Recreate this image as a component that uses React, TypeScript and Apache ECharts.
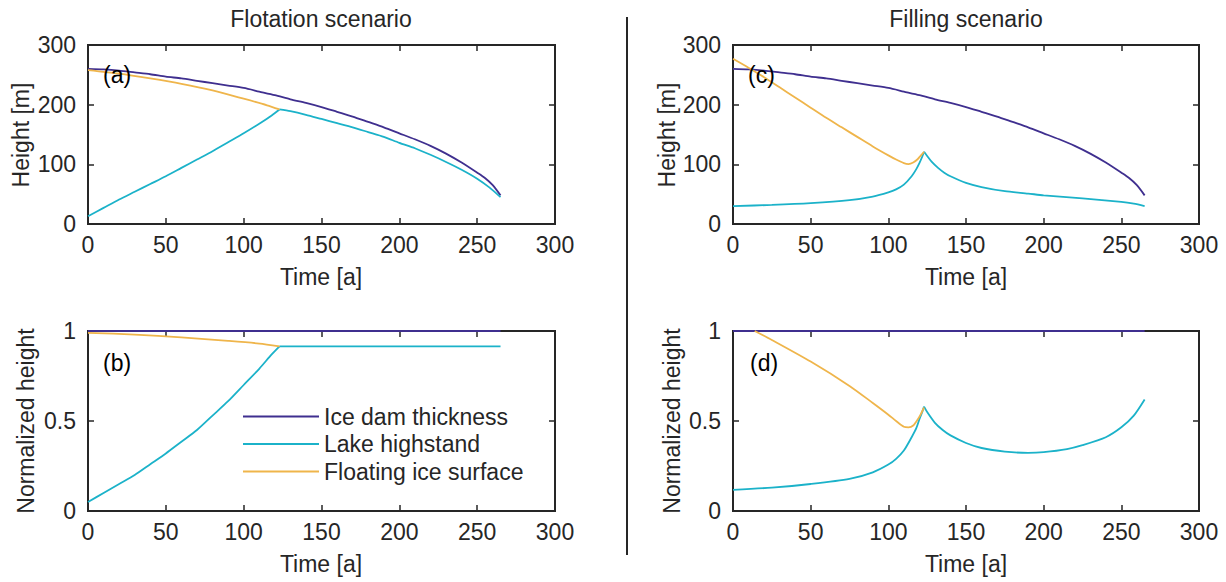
import React, { useEffect, useRef } from "react";
import * as echarts from "echarts";

// ---------- data ----------
const xTicks = { min: 0, max: 300, interval: 50 };
const heightTicks = { min: 0, max: 300, interval: 100 };
const normTicks = { min: 0, max: 1, interval: 0.5 };

// Ice dam thickness [m] (panels a and c)
const iceT = [0, 10, 20, 30, 40, 50, 60, 70, 80, 90, 100, 110, 120, 130, 140, 150, 160, 170, 180, 190, 200, 210, 220, 230, 240, 250, 255, 260, 265];
const iceH = [260, 259, 257, 254, 251, 247, 244, 240, 236, 232, 228, 222, 216, 209, 203, 196, 188, 180, 171, 162, 152, 142, 131, 118, 103, 86, 77, 65, 48];

// Panel (a) flotation scenario
const floatAT = [0, 20, 40, 60, 80, 100, 115, 123];
const floatAH = [258, 252, 244, 235, 224, 210, 199, 192];
const lakeAT1 = [0, 10, 20, 30, 40, 50, 60, 70, 80, 90, 100, 110, 118, 123];
const lakeAH1 = [13, 27, 41, 54, 67, 80, 94, 108, 122, 137, 152, 168, 182, 192];
const lakeAT2 = [123, 130, 140, 150, 160, 170, 180, 190, 200, 210, 220, 230, 240, 250, 258, 265];
const lakeAH2 = [192, 189, 183, 176, 169, 162, 154, 146, 136, 127, 116, 104, 91, 76, 61, 45];

// Panel (b) normalized, flotation
const normIceT = [0, 265];
const normIceV = [1, 1];
const floatBT = [0, 30, 60, 90, 110, 123];
const floatBV = [0.99, 0.98, 0.965, 0.945, 0.93, 0.915];
const lakeBT1 = [0, 10, 20, 30, 40, 50, 60, 70, 80, 90, 100, 110, 118, 123];
const lakeBV1 = [0.05, 0.1, 0.15, 0.2, 0.26, 0.32, 0.385, 0.45, 0.53, 0.61, 0.7, 0.79, 0.87, 0.915];
const lakeBT2 = [123, 265];
const lakeBV2 = [0.915, 0.915];

// Panel (c) filling scenario
const floatCT = [0, 10, 20, 30, 40, 50, 60, 70, 80, 90, 100, 105, 110, 113, 116, 119, 121, 123];
const floatCH = [277, 262, 246, 229, 212, 195, 178, 162, 146, 130, 115, 108, 102, 100.5, 103, 109, 115, 121];
const lakeCT1 = [0, 25, 50, 75, 90, 100, 105, 110, 115, 118, 120, 122, 123];
const lakeCH1 = [30, 32, 35, 40, 46, 53, 58, 66, 80, 92, 102, 114, 121];
const lakeCT2 = [123, 125, 128, 132, 136, 140, 150, 160, 175, 190, 200, 225, 250, 258, 265];
const lakeCH2 = [121, 114, 104, 94, 86, 80, 69, 62, 55, 51, 48, 43, 37, 34, 30];

// Panel (d) normalized, filling
const floatDT = [14, 25, 50, 75, 90, 100, 105, 110, 113, 116, 119, 121, 123];
const floatDV = [1.0, 0.95, 0.83, 0.695, 0.6, 0.535, 0.5, 0.468, 0.465, 0.475, 0.51, 0.54, 0.575];
const lakeDT1 = [0, 25, 50, 75, 90, 100, 105, 110, 115, 118, 120, 122, 123];
const lakeDV1 = [0.117, 0.13, 0.15, 0.178, 0.215, 0.258, 0.29, 0.336, 0.41, 0.46, 0.51, 0.555, 0.58];
const lakeDT2 = [123, 125, 130, 135, 140, 150, 160, 175, 190, 200, 215, 225, 240, 250, 258, 265];
const lakeDV2 = [0.58, 0.55, 0.49, 0.45, 0.42, 0.378, 0.35, 0.33, 0.323, 0.327, 0.344, 0.366, 0.41, 0.465, 0.53, 0.62];

const seriesNames = ["Ice dam thickness", "Lake highstand", "Floating ice surface"];
const colors = ["#3F2F8F", "#1BB2C9", "#EFB54B"];

// ---------- styling ----------
const FONT = "Liberation Sans";
const TXT = "#262626";
const FRAME = "#262626";
const FS = 23;

function zip(t: number[], v: number[]) {
  return t.map((x, i) => [x, v[i]]);
}

const grids = [
  { left: 88, top: 45, width: 467, height: 179 },
  { left: 88, top: 331, width: 467, height: 180 },
  { left: 733, top: 45, width: 466, height: 179 },
  { left: 733, top: 331, width: 466, height: 180 },
];

function axisLineOpt() {
  return { show: true, onZero: false, lineStyle: { color: FRAME, width: 2 } };
}
function tickOpt() {
  return { show: true, inside: true, length: 6, lineStyle: { color: FRAME, width: 1.5 } };
}

function buildOption() {
  const xAxis: any[] = [];
  const yAxis: any[] = [];
  grids.forEach((_, gi) => {
    xAxis.push({
      type: "value", gridIndex: gi, position: "bottom", ...xTicks, z: 4,
      axisLine: axisLineOpt(), axisTick: tickOpt(), splitLine: { show: false },
      axisLabel: { show: true, color: TXT, fontSize: FS, fontFamily: FONT, margin: 9 },
    });
    xAxis.push({
      type: "value", gridIndex: gi, position: "top", ...xTicks, z: 4,
      axisLine: axisLineOpt(), axisTick: tickOpt(), splitLine: { show: false },
      axisLabel: { show: false },
    });
    const isTop = gi === 0 || gi === 2;
    const yr = isTop ? heightTicks : normTicks;
    yAxis.push({
      type: "value", gridIndex: gi, position: "left", ...yr, z: 4,
      axisLine: axisLineOpt(), axisTick: tickOpt(), splitLine: { show: false },
      axisLabel: { show: true, color: TXT, fontSize: FS, fontFamily: FONT, margin: 12 },
    });
    yAxis.push({
      type: "value", gridIndex: gi, position: "right", ...yr, z: 4,
      axisLine: axisLineOpt(), axisTick: tickOpt(), splitLine: { show: false },
      axisLabel: { show: false },
    });
  });

  const mk = (name: string, ci: number, gi: number, t: number[], v: number[]) => ({
    type: "line",
    name,
    xAxisIndex: gi * 2,
    yAxisIndex: gi * 2,
    data: zip(t, v),
    showSymbol: false,
    symbol: "none",
    smooth: 0.25,
    lineStyle: { color: colors[ci], width: 1.8 },
    itemStyle: { color: colors[ci] },
    z: 10,
  });

  const series = [
    mk(seriesNames[0], 0, 0, iceT, iceH),
    mk(seriesNames[1], 1, 0, lakeAT1, lakeAH1),
    mk(seriesNames[1], 1, 0, lakeAT2, lakeAH2),
    mk(seriesNames[2], 2, 0, floatAT, floatAH),
    mk(seriesNames[0], 0, 1, normIceT, normIceV),
    mk(seriesNames[1], 1, 1, lakeBT1, lakeBV1),
    mk(seriesNames[1], 1, 1, lakeBT2, lakeBV2),
    mk(seriesNames[2], 2, 1, floatBT, floatBV),
    mk(seriesNames[0], 0, 2, iceT, iceH),
    mk(seriesNames[1], 1, 2, lakeCT1, lakeCH1),
    mk(seriesNames[1], 1, 2, lakeCT2, lakeCH2),
    mk(seriesNames[2], 2, 2, floatCT, floatCH),
    mk(seriesNames[0], 0, 3, normIceT, normIceV),
    mk(seriesNames[1], 1, 3, lakeDT1, lakeDV1),
    mk(seriesNames[1], 1, 3, lakeDT2, lakeDV2),
    mk(seriesNames[2], 2, 3, floatDT, floatDV),
  ];

  const txt = (text: string, x: number, y: number, opts: any = {}) => ({
    type: "text",
    x,
    y,
    rotation: opts.rotation || 0,
    style: {
      text,
      fill: opts.fill || TXT,
      fontSize: FS,
      fontFamily: FONT,
      align: opts.align || "center",
      verticalAlign: "middle",
    },
    z: 20,
  });

  // frame edges as thin filled bars
  const bar = (x: number, y: number, w: number, h: number) => ({
    type: "rect",
    shape: { x, y, width: w, height: h },
    style: { fill: FRAME, stroke: null, lineWidth: 0 },
    z: 5,
  });

  const frames: any[] = [];
  grids.forEach((g) => {
    const r = g.left + g.width;
    const b = g.top + g.height;
    frames.push(bar(g.left - 1, g.top - 1, g.width + 2, 2));
    frames.push(bar(g.left - 1, b - 1, g.width + 2, 2));
    frames.push(bar(g.left - 1, g.top - 1, 2, g.height + 2));
    frames.push(bar(r - 1, g.top - 1, 2, g.height + 2));
  });

  const graphic = [
    ...frames,
    txt("Flotation scenario", 321, 19),
    txt("Filling scenario", 966, 19),
    txt("Time [a]", 321, 277),
    txt("Time [a]", 321, 564),
    txt("Time [a]", 966, 277),
    txt("Time [a]", 966, 564),
    txt("Height [m]", 21, 135, { rotation: Math.PI / 2 }),
    txt("Normalized height", 26, 421, { rotation: Math.PI / 2 }),
    txt("Height [m]", 667, 135, { rotation: Math.PI / 2 }),
    txt("Normalized height", 672, 421, { rotation: Math.PI / 2 }),
    txt("(a)", 103, 75, { align: "left", fill: "#000" }),
    txt("(b)", 103, 363, { align: "left", fill: "#000" }),
    txt("(c)", 748, 75, { align: "left", fill: "#000" }),
    txt("(d)", 750, 363, { align: "left", fill: "#000" }),
    bar(626, 17, 2, 538),
  ];

  return {
    animation: false,
    backgroundColor: "#ffffff",
    textStyle: { fontFamily: FONT },
    grid: grids.map((g) => ({ ...g })),
    xAxis,
    yAxis,
    legend: {
      show: true,
      orient: "vertical",
      left: 238,
      top: 400,
      z: 20,
      icon: "rect",
      itemWidth: 76,
      itemHeight: 2,
      itemGap: 4.5,
      selectedMode: false,
      data: seriesNames,
      textStyle: { color: TXT, fontSize: FS, fontFamily: FONT, lineHeight: 23 },
    },
    series,
    graphic,
  };
}

export default function App() {
  const ref = useRef<HTMLDivElement>(null);
  useEffect(() => {
    if (!ref.current) return;
    const chart = echarts.init(ref.current, undefined, { renderer: "svg" });
    chart.setOption(buildOption() as any);
    return () => chart.dispose();
  }, []);
  return (
    <div
      ref={ref}
      style={{ position: "fixed", left: 0, top: 0, width: 1226, height: 582, background: "#fff" }}
    />
  );
}
